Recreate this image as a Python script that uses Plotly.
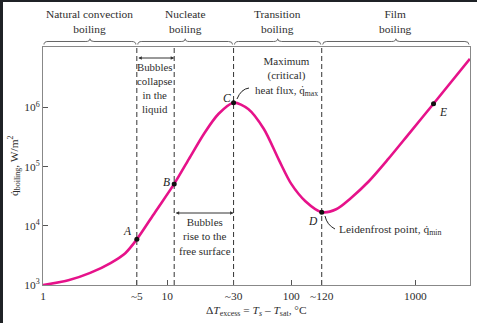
import math
import plotly.graph_objects as go

# ---- data ----
dT = [1, 1.6, 2.4, 3.5, 4.6, 5.7, 8, 11.4, 15, 20, 26, 34.3, 45, 60, 80, 100,
      130, 176, 230, 300, 420, 600, 900, 1400, 2750]
q = [1000, 1200, 1600, 2350, 3450, 5900, 17000, 51000, 135000, 370000, 780000,
     1.2e6, 9.4e5, 4.35e5, 1.26e5, 5.1e4, 2.6e4, 1.7e4, 1.9e4, 2.9e4, 5.6e4,
     1.32e5, 3.72e5, 1.15e6, 6.6e6]
pt_names = ["A", "B", "C", "D", "E"]
pt_dT = [5.7, 11.4, 34.3, 176, 1400]
pt_q = [5900, 51000, 1.2e6, 1.7e4, 1.15e6]
boundaries = [5.7, 11.4, 34.3, 176]
regions = ["Natural convection<br>boiling", "Nucleate<br>boiling",
           "Transition<br>boiling", "Film<br>boiling"]
region_edges = [1, 5.7, 34.3, 176, 2750]
xtick_vals = [1, 5.7, 10, 34.3, 100, 176, 1000]
xtick_text = ["1", "~5", "10", "~30", "100", "~120", "1000"]
ytick_vals = [1e3, 1e4, 1e5, 1e6]
ytick_text = ["10<sup>3</sup>", "10<sup>4</sup>", "10<sup>5</sup>", "10<sup>6</sup>"]

W, H = 477, 323
L, R, T, B = 43, 7, 47, 38
XR = (0, 3.44)
YR = (3, 7.02)
PW, PH = W - L - R, H - T - B

def fx(v):
    return (math.log10(v) - XR[0]) / (XR[1] - XR[0])

def fy(v):
    return (math.log10(v) - YR[0]) / (YR[1] - YR[0])

def px(xp):
    return (xp - L) / PW

def py(yp):
    return (H - B - yp) / PH

FONT = "Liberation Serif"
TXT = "#2e2e2e"
FS = 11.4

fig = go.Figure()
fig.add_trace(go.Scatter(x=dT, y=q, mode="lines", line=dict(color="#E6128A", width=2.6, shape="spline", smoothing=0.8),
                         hoverinfo="skip"))
fig.add_trace(go.Scatter(x=pt_dT, y=pt_q, mode="markers", marker=dict(color="#111", size=5),
                         hoverinfo="skip"))

shapes = []
# dashed vertical lines
for b in boundaries:
    shapes.append(dict(type="line", xref="paper", yref="paper", x0=fx(b), x1=fx(b), y0=0, y1=1,
                       line=dict(color="#333", width=1, dash="5px,3px"), layer="below"))

# braces
def brace(a, b):
    xa = L + fx(a) * PW + 1
    xb = L + fx(b) * PW - 1
    m = (xa + xb) / 2
    yb, yl, yt = 44.5, 41.5, 38.8
    pts = [("M", xa, yb), ("Q", xa, yl, xa + 4, yl), ("L", m - 4, yl), ("Q", m, yl, m, yt),
           ("Q", m, yl, m + 4, yl), ("L", xb - 4, yl), ("Q", xb, yl, xb, yb)]
    s = ""
    for p in pts:
        cmd = p[0]
        coords = p[1:]
        parts = []
        for i in range(0, len(coords), 2):
            parts.append(f"{px(coords[i]):.5f},{py(coords[i+1]):.5f}")
        s += cmd + " " + " ".join(parts) + " "
    return s

for i in range(len(regions)):
    shapes.append(dict(type="path", xref="paper", yref="paper", path=brace(region_edges[i], region_edges[i + 1]),
                       line=dict(color="#666", width=1)))

# curved pointer lines
def curve(p0, c, p1):
    return f"M {px(p0[0]):.5f},{py(p0[1]):.5f} Q {px(c[0]):.5f},{py(c[1]):.5f} {px(p1[0]):.5f},{py(p1[1]):.5f}"

shapes.append(dict(type="path", xref="paper", yref="paper", path=curve((249, 88), (241, 89), (237, 99)),
                   line=dict(color="#222", width=1)))
shapes.append(dict(type="path", xref="paper", yref="paper", path=curve((325, 216), (327, 225), (335, 229)),
                   line=dict(color="#222", width=1)))

# dark frame edges
shapes.append(dict(type="rect", xref="paper", yref="paper", x0=px(0), x1=px(3), y0=py(H), y1=py(0),
                   fillcolor="#1f2226", line=dict(width=0)))
shapes.append(dict(type="rect", xref="paper", yref="paper", x0=px(0), x1=px(W), y0=py(2), y1=py(0),
                   fillcolor="#1f2226", line=dict(width=0)))

ann = []
# region titles
for i, r in enumerate(regions):
    xa = L + fx(region_edges[i]) * PW
    xb = L + fx(region_edges[i + 1]) * PW
    ann.append(dict(xref="paper", yref="paper", x=px((xa + xb) / 2), y=py(22), text=r, showarrow=False,
                    font=dict(family=FONT, size=FS, color=TXT), xanchor="center", yanchor="middle"))

# point labels
offs = {"A": (-9, -8), "B": (-8, -2), "C": (-7, -5), "D": (-9, 9), "E": (9, 8)}
for n, xv, yv in zip(pt_names, pt_dT, pt_q):
    dx, dy = offs[n]
    ann.append(dict(xref="paper", yref="paper", x=fx(xv) + dx / PW, y=fy(yv) - dy / PH, text=f"<i>{n}</i>",
                    showarrow=False, font=dict(family=FONT, size=11.5, color="#222"),
                    xanchor="center", yanchor="middle"))

ann.append(dict(xref="paper", yref="paper", x=px(155), y=py(88),
                text="Bubbles<br>collapse<br>in the<br>liquid", showarrow=False,
                font=dict(family=FONT, size=10.8, color=TXT), xanchor="center", yanchor="middle"))
ann.append(dict(xref="paper", yref="paper", x=px(205), y=py(236),
                text="Bubbles<br>rise to the<br>free surface", showarrow=False,
                font=dict(family=FONT, size=11, color=TXT), xanchor="center", yanchor="middle"))
ann.append(dict(xref="paper", yref="paper", x=px(286), y=py(76),
                text="Maximum<br>(critical)<br>heat flux, q\u0307<sub>max</sub>", showarrow=False,
                font=dict(family=FONT, size=11, color=TXT), xanchor="center", yanchor="middle"))
ann.append(dict(xref="paper", yref="paper", x=px(337), y=py(230),
                text="Leidenfrost point, q\u0307<sub>min</sub>", showarrow=False,
                font=dict(family=FONT, size=FS, color=TXT), xanchor="left", yanchor="middle"))

# double arrows
for (xa, xb, yy) in [(boundaries[0], boundaries[1], 58), (boundaries[1], boundaries[2], 213)]:
    x1 = fx(xa)
    x2 = fx(xb)
    ann.append(dict(xref="paper", yref="paper", x=x2, y=py(yy), ax=-(x2 - x1) * PW, ay=0,
                    axref="pixel", ayref="pixel", text="", showarrow=True, arrowside="end+start",
                    arrowhead=2, arrowsize=0.7, arrowwidth=1, arrowcolor="#333"))

# axis titles
ann.append(dict(xref="paper", yref="paper", x=px(14), y=py(165),
                text="q\u0307<sub>boiling</sub>, W/m<sup>2</sup>", textangle=-90, showarrow=False,
                font=dict(family=FONT, size=FS, color=TXT), xanchor="center", yanchor="middle"))
ann.append(dict(xref="paper", yref="paper", x=px(256), y=py(311),
                text="\u0394<i>T</i><sub>excess</sub> = <i>T<sub>s</sub></i> \u2013 <i>T</i><sub>sat</sub>, \u00b0C",
                showarrow=False, font=dict(family=FONT, size=FS, color=TXT), xanchor="center", yanchor="middle"))

fig.update_layout(
    width=W, height=H, autosize=False,
    margin=dict(l=L, r=R, t=T, b=B),
    paper_bgcolor="white", plot_bgcolor="white",
    showlegend=False,
    shapes=shapes, annotations=ann,
    xaxis=dict(type="log", range=list(XR), tickvals=xtick_vals, ticktext=xtick_text,
               ticks="inside", ticklen=5, tickcolor="#555", showgrid=False, zeroline=False,
               showline=True, linecolor="#888", linewidth=1, mirror=True,
               tickfont=dict(family=FONT, size=11.4, color=TXT)),
    yaxis=dict(type="log", range=list(YR), tickvals=ytick_vals, ticktext=ytick_text,
               ticks="inside", ticklen=5, tickcolor="#555", showgrid=False, zeroline=False,
               showline=True, linecolor="#888", linewidth=1, mirror=True,
               tickfont=dict(family=FONT, size=11.4, color=TXT)),
)

fig.write_html("out.html")
